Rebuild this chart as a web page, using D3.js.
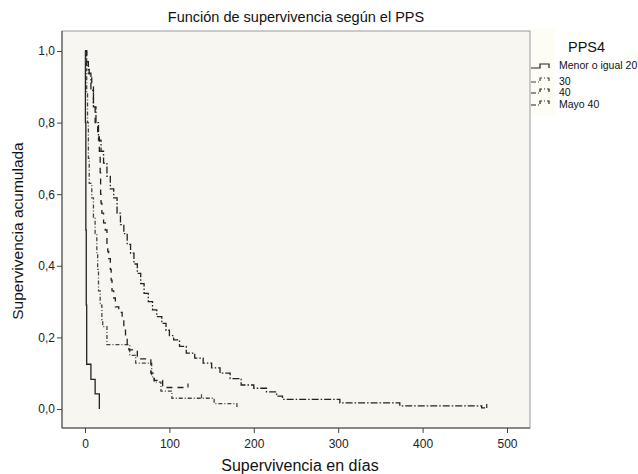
<!DOCTYPE html>
<html lang="es">
<head>
<meta charset="UTF-8">
<title>Función de supervivencia según el PPS</title>
<script src="https://d3js.org/d3.v7.min.js"></script>
<style>
    body { margin: 0; background: #fff; }
    svg { font-family: "Liberation Sans", Arial, sans-serif; }
    .tick text { font-size: 12px; fill: #222; }
</style>
</head>
<body>
<svg id="chart" width="638" height="474"></svg>
<script>
// Kaplan-Meier estimates: [day, cumulative survival]
var pps20 = [[0,1],[0.5,0.8],[1,0.5],[1.5,0.29],[2,0.125],[7,0.083],[12,0.042],[17,0]];
var pps30 = [[0,1],[1,0.95],[2,0.88],[3,0.8],[4,0.7],[5,0.63],[8,0.59],[10,0.535],[12,0.49],
    [14,0.435],[15,0.39],[16,0.33],[18,0.29],[20,0.25],[21,0.23],[26,0.18],[53,0.15],[60,0.128],
    [79,0.09],[82,0.075],[90,0.05],[103,0.03],[153,0.015],[180,0]];
var pps40 = [[0,1],[2,0.96],[5,0.93],[8,0.9],[10,0.85],[12,0.8],[15,0.76],[17,0.72],[18,0.66],
    [18.5,0.6],[19,0.575],[20,0.547],[22,0.52],[24,0.5],[26,0.46],[27,0.44],[28,0.42],[30,0.39],
    [31,0.36],[32,0.33],[34,0.31],[36,0.285],[40,0.27],[44,0.25],[46,0.22],[48,0.2],[50,0.18],
    [52,0.165],[62,0.14],[78,0.1],[82,0.08],[92,0.06],[122,0.06]];
var ppsMayo40 = [[0,1],[2,0.97],[4,0.938],[7,0.89],[10,0.844],[13,0.8],[16,0.751],[19,0.72],
    [22,0.687],[26,0.65],[30,0.615],[34,0.59],[38,0.547],[42,0.515],[46,0.49],[50,0.46],[54,0.435],
    [58,0.405],[62,0.379],[66,0.35],[70,0.323],[75,0.3],[80,0.277],[85,0.258],[91,0.239],[96,0.22],
    [100,0.205],[105,0.193],[112,0.175],[120,0.156],[130,0.142],[140,0.128],[150,0.115],[160,0.1],
    [172,0.085],[185,0.067],[200,0.058],[215,0.048],[227,0.036],[234,0.027],[302,0.017],
    [373,0.009],[470,0.003],[476,0.003]];

// censored cases (tick marks)
var cens30 = [138];
var cens40 = [122];
var censMayo40 = [476];

var groupNames = ["Menor o igual 20", "30", "40", "Mayo 40"];
var xTicks = [0, 100, 200, 300, 400, 500];
var yTicks = [0, 0.2, 0.4, 0.6, 0.8, 1.0];

var series = [
    { name: groupNames[0], data: pps20, cens: [], dash: null, color: "#222" },
    { name: groupNames[1], data: pps30, cens: cens30, dash: "4,2,1,2", color: "#444" },
    { name: groupNames[2], data: pps40, cens: cens40, dash: "6,5", color: "#222" },
    { name: groupNames[3], data: ppsMayo40, cens: censMayo40, dash: "7,2,1.5,2", color: "#222" }
];

var frame = { left: 62, right: 530, top: 31, bottom: 428 };

var svg = d3.select("#chart");

var x = d3.scaleLinear().domain([0, 500]).range([85, 507]);
var y = d3.scaleLinear().domain([0, 1]).range([409, 51]);

// plot background
svg.append("rect")
    .attr("x", frame.left).attr("y", frame.top)
    .attr("width", frame.right - frame.left)
    .attr("height", frame.bottom - frame.top)
    .attr("fill", "#f8f6f0")
    .attr("stroke", "#9a9a9a");

// legend strip
svg.append("rect")
    .attr("x", frame.right + 1).attr("y", 28)
    .attr("width", 24).attr("height", 88)
    .attr("fill", "#fdfcf5");

// axes
svg.append("g")
    .attr("transform", "translate(0," + frame.bottom + ")")
    .call(d3.axisBottom(x).tickValues(xTicks).tickSize(5).tickPadding(6))
    .call(g => g.select(".domain").attr("d", "M" + frame.left + ",0H" + frame.right).attr("stroke", "#444"))
    .call(g => g.selectAll(".tick line").attr("stroke", "#444"));

svg.append("g")
    .attr("transform", "translate(" + frame.left + ",0)")
    .call(d3.axisLeft(y).tickValues(yTicks).tickSize(5).tickPadding(2)
        .tickFormat(d => d3.format(".1f")(d).replace(".", ",")))
    .call(g => g.select(".domain").attr("d", "M0," + frame.top + "V" + frame.bottom).attr("stroke", "#444"))
    .call(g => g.selectAll(".tick line").attr("stroke", "#444"));

// survival curves
var line = d3.line()
    .x(d => x(d[0]))
    .y(d => y(d[1]))
    .curve(d3.curveStepAfter);

series.forEach(function(s) {
    svg.append("path")
        .datum(s.data)
        .attr("d", line)
        .attr("fill", "none")
        .attr("stroke", s.color)
        .attr("stroke-width", 1.3)
        .attr("stroke-dasharray", s.dash);

    // censor ticks
    svg.selectAll(null)
        .data(s.cens)
        .enter().append("line")
        .attr("x1", t => x(t)).attr("x2", t => x(t))
        .attr("y1", function(t) {
            var v = s.data.filter(d => d[0] <= t);
            return y(v[v.length - 1][1]);
        })
        .attr("y2", function(t) {
            var v = s.data.filter(d => d[0] <= t);
            return y(v[v.length - 1][1]) - 4;
        })
        .attr("stroke", s.color)
        .attr("stroke-width", 1.2);
});

// titles
svg.append("text")
    .attr("x", 296).attr("y", 22)
    .attr("text-anchor", "middle")
    .attr("font-size", 14.5)
    .attr("fill", "#111")
    .text("Función de supervivencia según el PPS");

svg.append("text")
    .attr("x", 300).attr("y", 471)
    .attr("text-anchor", "middle")
    .attr("font-size", 16)
    .attr("fill", "#111")
    .text("Supervivencia en días");

svg.append("text")
    .attr("transform", "translate(23,231) rotate(-90)")
    .attr("text-anchor", "middle")
    .attr("font-size", 15.5)
    .attr("fill", "#111")
    .text("Supervivencia acumulada");

// legend
svg.append("text")
    .attr("x", 568).attr("y", 52)
    .attr("font-size", 14.5)
    .attr("fill", "#111")
    .text("PPS4");

var legendY = [66, 80, 91, 103];

var legend = svg.selectAll(".legend-item")
    .data(series)
    .enter().append("g")
    .attr("class", "legend-item")
    .attr("transform", (d, i) => "translate(531," + legendY[i] + ")");

legend.append("path")
    .attr("d", "M0,2H9V-2H18V2")
    .attr("fill", "none")
    .attr("stroke", d => d.color)
    .attr("stroke-width", 1.2)
    .attr("stroke-dasharray", d => d.dash ? "5,2,1,2" : null);

legend.append("text")
    .attr("x", 28).attr("y", (d, i) => i === 0 ? 3 : 5)
    .attr("font-size", 10.5)
    .attr("fill", "#111")
    .text(d => d.name);
</script>
</body>
</html>
